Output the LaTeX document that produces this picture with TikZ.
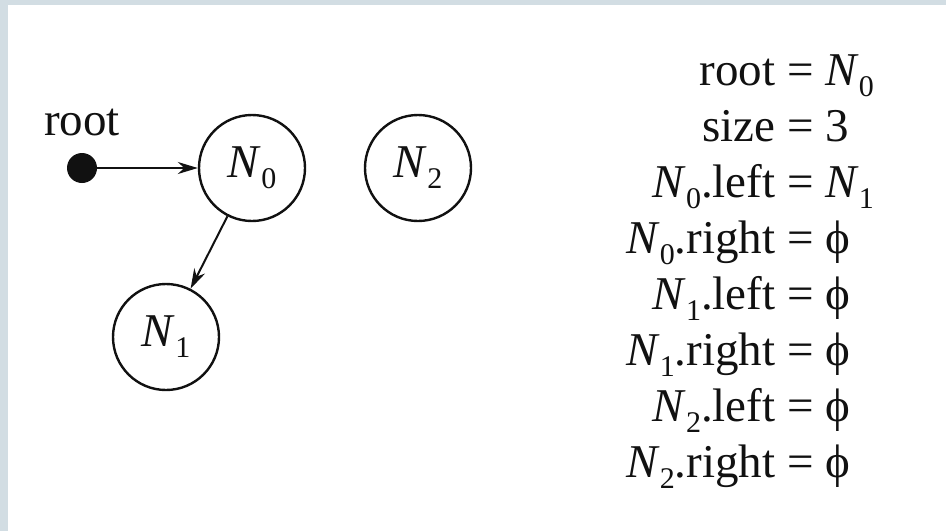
\documentclass[tikz,border=0pt]{standalone}
\usepackage{fontspec}
\setmainfont{Liberation Serif}
\usetikzlibrary{arrows.meta, positioning}

% node name with its index, as N with a lowered digit
\newcommand{\nd}[1]{\textit{N}\raisebox{-5.5pt}{\fontsize{15}{15}\selectfont #1}}

\begin{document}
\begin{tikzpicture}[
    x=0.5pt, y=-0.5pt,
    every node/.style={font=\fontsize{23.5}{28}\selectfont},
]

% ---------------------------------------------------------------- colours
\definecolor{ink}{HTML}{111111}        % circles, arrows, text
\definecolor{framegrey}{HTML}{D2DDE3}  % the strip on the left and top

% ================================================================
% Geometry, in pixels of the 946 x 531 frame (y grows downwards).
%
%   grey strip: x 0..8 on the left, y 0..5 on the top
%   root dot at (82,168), label "root" just above it
%   N0 at (252,168), N2 at (418,168), N1 at (166,337), radius about 53
%   the eight facts: one table, '=' column near x = 804,
%   first baseline y = 85, baselines 56 apart
% ================================================================

\tikzset{
    treenode/.style={
        circle, draw=ink, line width=1.2pt,
        minimum size=53pt, inner sep=0pt,
    },
    rootdot/.style={circle, fill=ink, minimum size=15pt, inner sep=0pt},
    link/.style={
        draw=ink, line width=1pt,
        -{Stealth[length=10pt, width=6pt]},
    },
}

\useasboundingbox (0,0) rectangle (946,531);
\fill[white] (0,0) rectangle (946,531);
\fill[framegrey] (0,0) rectangle (8,531);
\fill[framegrey] (0,0) rectangle (946,5);

% ---------------------------------------------------------------- the tree
\node[rootdot] (rootpt) at (82,168) {};
\node[above=8pt of rootpt, inner sep=0pt, text=ink] (rootlbl) {root};

\foreach \n/\x/\y in {0/252/168, 1/166/337, 2/418/168} {
    \node[treenode, text=ink] (n\n) at (\x,\y) {\nd{\n}};
}

\draw[link] (rootpt) -- (n0);
\draw[link] (n0) -- (n1);

% ---------------------------------------------------------------- the facts
\node[anchor=base west, inner sep=0pt, text=ink] (facts) at (626,85) {%
    \begin{tabular}[t]{@{}r@{\ =\ }l@{}}
        root         & \nd{0} \\
        size         & 3 \\
        \nd{0}.left  & \nd{1} \\
        \nd{0}.right & ϕ \\
        \nd{1}.left  & ϕ \\
        \nd{1}.right & ϕ \\
        \nd{2}.left  & ϕ \\
        \nd{2}.right & ϕ \\
    \end{tabular}};

\end{tikzpicture}
\end{document}
